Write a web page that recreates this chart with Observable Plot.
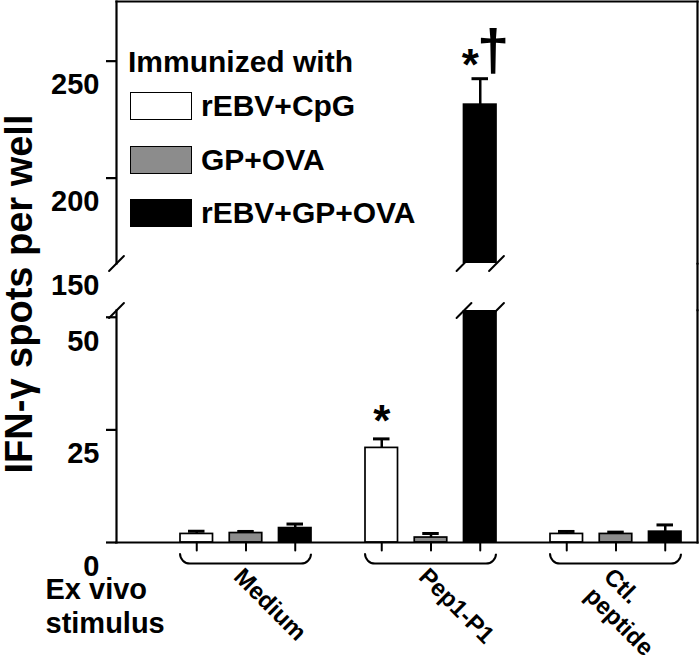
<!DOCTYPE html>
<html><head><meta charset="utf-8">
<script src="https://cdn.jsdelivr.net/npm/d3@7"></script>
<script src="https://cdn.jsdelivr.net/npm/@observablehq/plot@0.6"></script>
<style>
body{margin:0;background:#fff;}
#chart{position:relative;width:700px;height:665px;font-family:"Liberation Sans",Arial,sans-serif;font-weight:bold;color:#000;}
#chart svg{display:block;}
.ytitle{position:absolute;left:19px;top:294px;writing-mode:vertical-rl;transform:translate(-50%,-50%) rotate(180deg);font-size:38px;line-height:34px;white-space:nowrap;}
.legend-title{position:absolute;left:128px;top:47px;font-size:30px;line-height:30px;white-space:nowrap;}
.legend-row{position:absolute;left:130px;height:28px;display:flex;align-items:center;font-size:30px;line-height:30px;white-space:nowrap;}
.swatch{width:62px;height:28px;box-sizing:border-box;border:1.7px solid #000;margin-right:9px;}
</style></head><body><div id="chart"></div>
<script>
// ---- data ----
const groups = ["Medium", "Pep1-P1", "Ctl. peptide"];
const groupLabels = ["Medium", "Pep1-P1", "Ctl.\npeptide"];
const series = ["rEBV+CpG", "GP+OVA", "rEBV+GP+OVA"];
const seriesColors = ["white", "#8c8c8c", "black"];
const meanRebvCpg = [1.9, 21.0, 1.9];
const meanGpOva = [2.1, 1.1, 1.9];
const meanRebvGpOva = [3.2, 231.4, 2.4];
const errRebvCpg = [0.6, 2.0, 0.55];
const errGpOva = [0.35, 0.9, 0.4];
const errRebvGpOva = [0.9, 11.1, 1.5];
const lowerDomain = [0, 51.5];
const upperDomain = [163.5, 275.5];
const lowerTicks = [0, 25, 50];
const upperTicks = [200, 250];
const breakLabel = "150";
const sigGroup = ["Pep1-P1", "Pep1-P1", "Pep1-P1"];
const sigSeries = ["rEBV+CpG", "rEBV+GP+OVA", "rEBV+GP+OVA"];
const sigSymbol = ["*", "*", "\u2020"];
const yTitle = "IFN-\u03b3 spots per well";
const legendTitle = "Immunized with";
const stimulusLabel = "Ex vivo\nstimulus";

// ---- build table ----
const means = [meanRebvCpg, meanGpOva, meanRebvGpOva];
const errs = [errRebvCpg, errGpOva, errRebvGpOva];
const data = groups.flatMap((g, gi) => series.map((s, si) => ({group: g, series: s, mean: means[si][gi], err: errs[si][gi]})));
const lowerMax = lowerDomain[1];
const sigData = sigSymbol.map((sym, i) => ({...data.find(d => d.group === sigGroup[i] && d.series === sigSeries[i]), symbol: sym}));

const FONT = '"Liberation Sans", Arial, sans-serif';
const AX = 2.2;
const W = 700, ML = 116, MR = 3;
const xScale = {domain: groups, paddingInner: 0.293, paddingOuter: 0.2086, align: 0.799, axis: null};
const top_ = d => d.mean + d.err;
const slash = {draw(ctx, l) { ctx.moveTo(0, 0); ctx.lineTo(0, -l); }};
const slashOpts = {length: 21, rotate: 45, anchor: "middle", shape: slash, stroke: "black", strokeWidth: 2};
const lineOpts = {shape: slash, stroke: "black", strokeWidth: AX, anchor: "start"};

// probe the group band width that Plot gives, then split each band into series sub-bands
const probe = Plot.plot({width: W, marginLeft: ML, marginRight: MR, x: xScale, marks: [Plot.barY(data, {x: "group", y: "mean"})]});
const bw = probe.scale("x").bandwidth;
const inner = d3.scaleBand().domain(series).range([0, bw]).paddingInner(0.34).paddingOuter(0);
const barW = inner.bandwidth();
const sub = series.map(s => {
  const L = inner(s);
  return {L, R: bw - L - barW, off: L + barW / 2 - bw / 2};
});

function seriesMarks(panel) {
  const out = [];
  series.forEach((s, si) => {
    const {L, R, off} = sub[si];
    const ds = data.filter(d => d.series === s);
    const errData = panel === "upper" ? ds.filter(d => d.mean > lowerMax) : ds.filter(d => d.mean <= lowerMax);
    const big = ds.filter(d => d.mean > lowerMax);
    const bars = panel === "upper" ? big : ds;
    out.push(
      Plot.barY(bars, {x: "group", y: "mean", fill: seriesColors[si], stroke: "black", strokeWidth: 1.7, insetLeft: L, insetRight: R, clip: true}),
      Plot.ruleX(errData, {x: "group", y1: "mean", y2: top_, dx: off, stroke: "black", strokeWidth: 2.5}),
      Plot.tickY(errData, {x: "group", y: top_, stroke: "black", strokeWidth: 3, insetLeft: L + 8, insetRight: R + 8}),
      Plot.vector(big, {x: "group", frameAnchor: panel === "upper" ? "bottom" : "top", dx: off - barW / 2, ...slashOpts}),
      Plot.vector(big, {x: "group", frameAnchor: panel === "upper" ? "bottom" : "top", dx: off + barW / 2, ...slashOpts})
    );
    if (panel === "lower") {
      out.push(Plot.vector(ds, {x: "group", frameAnchor: "bottom", dx: off, length: 8, rotate: 180, ...lineOpts, strokeWidth: 2}));
    }
    const sig = sigData.filter(d => d.series === s && (panel === "upper" ? d.mean > lowerMax : d.mean <= lowerMax));
    if (panel === "upper") {
      out.push(
        Plot.text(sig.filter(d => d.symbol === "*"), {x: "group", y: top_, text: "symbol", dx: off - 10, dy: -13, fontSize: 44, fontWeight: "bold", lineAnchor: "middle"}),
        Plot.text(sig.filter(d => d.symbol !== "*"), {x: "group", y: top_, text: "symbol", dx: off + 13, dy: -27, fontSize: 58, lineAnchor: "middle"})
      );
    } else {
      out.push(Plot.text(sig, {x: "group", y: top_, text: "symbol", dx: off, dy: -17, fontSize: 44, fontWeight: "bold", lineAnchor: "middle"}));
    }
  });
  return out;
}
function yAxis(ticks) {
  return [
    Plot.axisY(ticks, {anchor: "left", tickSize: 10, fill: "none", strokeWidth: AX, label: null}),
    Plot.axisY(ticks, {anchor: "left", tickSize: 0, tickPadding: 17, dy: 24, fontSize: 29, fontWeight: "bold", label: null})
  ];
}

const topPlot = Plot.plot({
  width: W, height: 300, marginTop: 1, marginBottom: 37, marginLeft: ML, marginRight: MR,
  style: {fontFamily: FONT},
  x: xScale, y: {domain: upperDomain, axis: null},
  marks: [
    ...seriesMarks("upper"),
    Plot.frame({anchor: "top", strokeWidth: AX, strokeLinecap: "square"}),
    Plot.frame({anchor: "left", strokeWidth: AX, strokeLinecap: "square"}),
    Plot.frame({anchor: "right", strokeWidth: AX, strokeLinecap: "square"}),
    Plot.vector([0], {frameAnchor: "bottom-right", length: 37, rotate: 180, ...lineOpts}),
    Plot.vector([0], {frameAnchor: "bottom-left", ...slashOpts}),
    ...yAxis(upperTicks),
    Plot.text([breakLabel], {frameAnchor: "bottom-left", textAnchor: "end", lineAnchor: "middle", dx: -17, dy: 22, fontSize: 29, fontWeight: "bold"})
  ]
});

const r = 10;
const q = Math.PI * r / 2;
const dash = `0 ${(bw - 2 * r) + q} ${(bw - 2 * r) + 2 * q} 2000`;

const bottomPlot = Plot.plot({
  width: W, height: 365, marginTop: 10, marginBottom: 123, marginLeft: ML, marginRight: MR,
  style: {fontFamily: FONT},
  x: xScale, y: {domain: lowerDomain, axis: null},
  marks: [
    ...seriesMarks("lower"),
    Plot.barY(groups, {x: d => d, y1: 0, y2: 0, insetTop: 1.6, insetBottom: -21.6, rx: r, ry: r, fill: "none", stroke: "black", strokeWidth: 2, strokeDasharray: dash}),
    Plot.text(groups, {x: d => d, text: (d, i) => groupLabels[i], frameAnchor: "bottom", rotate: 45, textAnchor: "start", lineAnchor: "top", dx: 0, dy: 22, fontSize: 24, fontWeight: "bold", lineHeight: 1.12}),
    Plot.frame({anchor: "left", strokeWidth: AX, strokeLinecap: "square"}),
    Plot.frame({anchor: "right", strokeWidth: AX, strokeLinecap: "square"}),
    Plot.frame({anchor: "bottom", strokeWidth: AX, strokeLinecap: "square"}),
    Plot.vector([0], {frameAnchor: "top-right", length: 10, rotate: 0, ...lineOpts}),
    Plot.vector([0], {frameAnchor: "top-left", ...slashOpts}),
    ...yAxis(lowerTicks),
    Plot.text([stimulusLabel], {frameAnchor: "bottom-left", textAnchor: "start", lineAnchor: "top", dx: -71, dy: 33, fontSize: 29, fontWeight: "bold", lineHeight: 1.15})
  ]
});

const chart = document.getElementById("chart");
chart.append(topPlot, bottomPlot);

const title = document.createElement("div");
title.className = "ytitle";
title.textContent = yTitle;
chart.append(title);

const lt = document.createElement("div");
lt.className = "legend-title";
lt.textContent = legendTitle;
chart.append(lt);
series.forEach((s, i) => {
  const row = document.createElement("div");
  row.className = "legend-row";
  row.style.top = (92 + i * 53.5) + "px";
  const sw = document.createElement("div");
  sw.className = "swatch";
  sw.style.background = seriesColors[i];
  const lab = document.createElement("span");
  lab.textContent = s;
  row.append(sw, lab);
  chart.append(row);
});
</script></body></html>
